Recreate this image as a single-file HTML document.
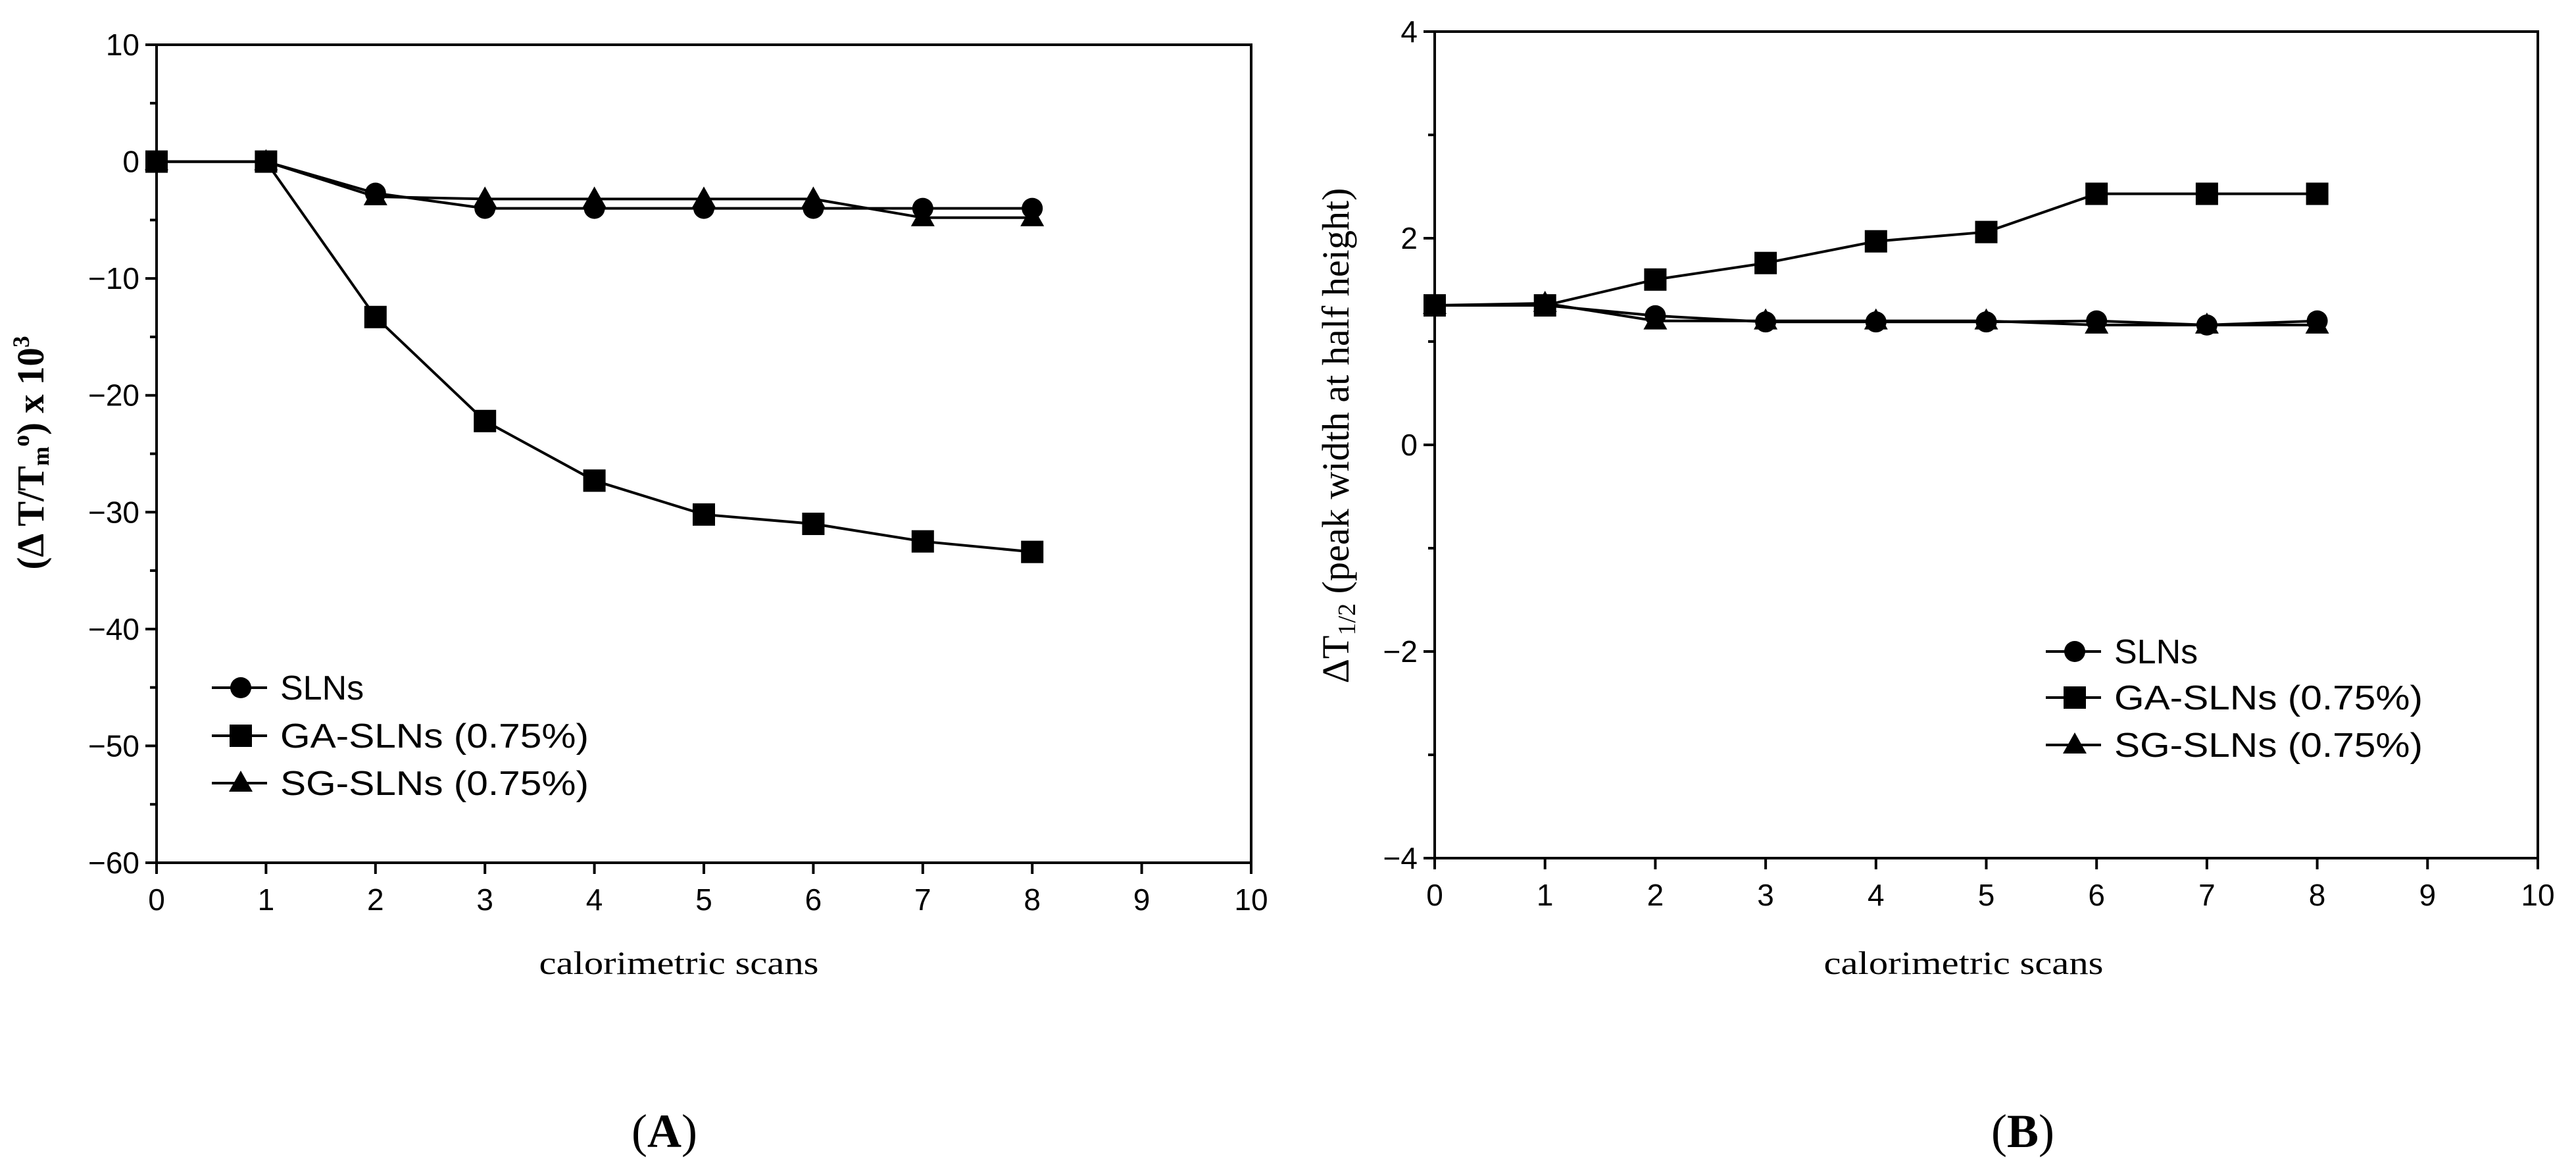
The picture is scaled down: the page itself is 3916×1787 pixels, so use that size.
<!DOCTYPE html>
<html><head><meta charset="utf-8"><style>html,body{margin:0;padding:0;background:#fff}svg{display:block}</style></head>
<body>
<svg id="fig" width="3916" height="1787" viewBox="0 0 3916 1787" xmlns="http://www.w3.org/2000/svg"></svg>
<script>
// ---- data ----
const scans = [0,1,2,3,4,5,6,7,8];
const xTicks = [0,1,2,3,4,5,6,7,8,9,10];
const aSLN = [0,0,-2.7,-4.0,-4.0,-4.0,-4.0,-4.0,-4.0];
const aGA  = [0,0,-13.3,-22.2,-27.3,-30.2,-31.0,-32.5,-33.4];
const aSG  = [0,0,-3.0,-3.2,-3.2,-3.2,-3.2,-4.8,-4.8];
const aYTicks = [10,0,-10,-20,-30,-40,-50,-60];
const bSLN = [1.35,1.35,1.25,1.19,1.19,1.19,1.2,1.16,1.2];
const bGA  = [1.35,1.35,1.6,1.76,1.97,2.06,2.43,2.43,2.43];
const bSG  = [1.35,1.37,1.2,1.2,1.2,1.2,1.16,1.16,1.16];
const bYTicks = [4,2,0,-2,-4];
const legendLabels = ["SLNs","GA-SLNs (0.75%)","SG-SLNs (0.75%)"];

const NS="http://www.w3.org/2000/svg";
const svg=document.getElementById('fig');
function mk(tag,attrs,parent,text){const e=document.createElementNS(NS,tag);for(const k in attrs)e.setAttribute(k,attrs[k]);if(text!==undefined)e.textContent=text;(parent||svg).appendChild(e);return e;}

function marker(g,type,cx,cy){
  let e;
  if(type==='circle'){e=mk('circle',{cx:cx,cy:cy,r:16,fill:'#000'},g);}
  else if(type==='square'){e=mk('rect',{x:cx-17,y:cy-17,width:34,height:34,fill:'#000'},g);}
  else {e=mk('polygon',{points:`${cx},${cy-19} ${cx+18},${cy+13} ${cx-18},${cy+13}`,fill:'#000'},g);}
  return e;
}

function panel(p){
  const g=mk('g',{});
  
  
  const X=v=>p.x0+(v-p.xmin)/(p.xmax-p.xmin)*(p.x1-p.x0);
  const Y=v=>p.yb-(v-p.ymin)/(p.ymax-p.ymin)*(p.yb-p.yt);
  // frame
  const fr=mk('rect',{x:p.x0,y:p.yt,width:p.x1-p.x0,height:p.yb-p.yt,fill:'none',stroke:'#000','stroke-width':4},g);
  
  
  // y ticks
  p.yTicks.forEach((v,i)=>{
    const y=Y(v);
    const t=mk('line',{x1:p.x0-17,y1:y,x2:p.x0,y2:y,stroke:'#000','stroke-width':4},g);
    
    
    const lab=(v<0?'\u2212':'')+Math.abs(v);
    const tx=mk('text',{x:p.x0-26,y:y+16,'text-anchor':'end','font-family':'Liberation Sans, sans-serif','font-size':46},g,lab);
    
    
    if(i<p.yTicks.length-1){
      const ym=Y((v+p.yTicks[i+1])/2);
      const m=mk('line',{x1:p.x0-10,y1:ym,x2:p.x0,y2:ym,stroke:'#000','stroke-width':4},g);
      
      
    }
  });
  // x ticks
  xTicks.forEach(v=>{
    const x=X(v);
    const t=mk('line',{x1:x,y1:p.yb,x2:x,y2:p.yb+17,stroke:'#000','stroke-width':4},g);
    
    
    const tx=mk('text',{x:x,y:p.yb+72,'text-anchor':'middle','font-family':'Liberation Sans, sans-serif','font-size':46},g,String(v));
    
    
  });
  // series
  const types=['circle','square','triangle'];
  const names=['series-slns','series-ga-slns','series-sg-slns'];
  p.series.forEach((s,si)=>{
    const sg=mk('g',{},g);
    
    
    const pts=scans.map((x,i)=>X(x)+','+Y(s[i])).join(' ');
    const pl=mk('polyline',{points:pts,fill:'none',stroke:'#000','stroke-width':4},sg);
    
    
    scans.forEach((x,i)=>{
      const m=marker(sg,types[si],X(x),Y(s[i]));
      
      
    });
  });
  // legend
  const lg=mk('g',{},g);
  
  
  legendLabels.forEach((lab,i)=>{
    const y=p.legY[i];
    const eg=mk('g',{},lg);
    
    
    mk('line',{x1:p.legX,y1:y,x2:p.legX+84,y2:y,stroke:'#000','stroke-width':4},eg);
    marker(eg,types[i],p.legX+44,y);
    const a={x:p.legX+104,y:y+18,'font-family':'Liberation Sans, sans-serif','font-size':52};
    if(i>0){a.textLength=469;a.lengthAdjust='spacingAndGlyphs';}
    mk('text',a,eg,lab);
  });
  // x-axis title
  const xt=mk('text',{x:p.xtX,y:1480,'text-anchor':'middle','font-family':'Liberation Serif, serif','font-size':50,textLength:425,lengthAdjust:'spacingAndGlyphs'},g,'calorimetric scans');
  
  
  // panel label
  const pl=mk('text',{x:p.labX,y:1743,'text-anchor':'middle','font-family':'Liberation Serif, serif','font-size':72},g);
  
  
  mk('tspan',{},pl,'(');
  mk('tspan',{'font-weight':'bold'},pl,p.letter);
  mk('tspan',{},pl,')');
  return g;
}

panel({name:'chart-a',x0:238,x1:1902,yt:68,yb:1311,xmin:0,xmax:10,ymin:-60,ymax:10,
  yTicks:aYTicks,series:[aSLN,aGA,aSG],legX:322,legY:[1045,1118,1190],xtX:1032,labX:1010,letter:'A'});
panel({name:'chart-b',x0:2181,x1:3858,yt:48,yb:1304,xmin:0,xmax:10,ymin:-4,ymax:4,
  yTicks:bYTicks,series:[bSLN,bGA,bSG],legX:3110,legY:[990,1060,1132],xtX:2985,labX:3075,letter:'B'});

// y-axis titles
const ya=mk('text',{x:0,y:0,transform:'translate(66,688) rotate(-90)','text-anchor':'middle','font-family':'Liberation Serif, serif','font-weight':'bold','font-size':58,textLength:355,lengthAdjust:'spacingAndGlyphs'});


mk('tspan',{},ya,'(\u0394 T/T');
mk('tspan',{'font-size':36,dy:8},ya,'m');
mk('tspan',{'font-size':36,dy:-30},ya,'o');
mk('tspan',{dy:22},ya,') x 10');
mk('tspan',{'font-size':36,dy:-22},ya,'3');

const yb=mk('text',{x:0,y:0,transform:'translate(2050,662) rotate(-90)','text-anchor':'middle','font-family':'Liberation Serif, serif','font-size':58,textLength:753,lengthAdjust:'spacingAndGlyphs'});


mk('tspan',{},yb,'\u0394T');
mk('tspan',{'font-size':38,dy:10},yb,'1/2');
mk('tspan',{dy:-10},yb,' (peak width at half height)');
</script>
</body></html>
